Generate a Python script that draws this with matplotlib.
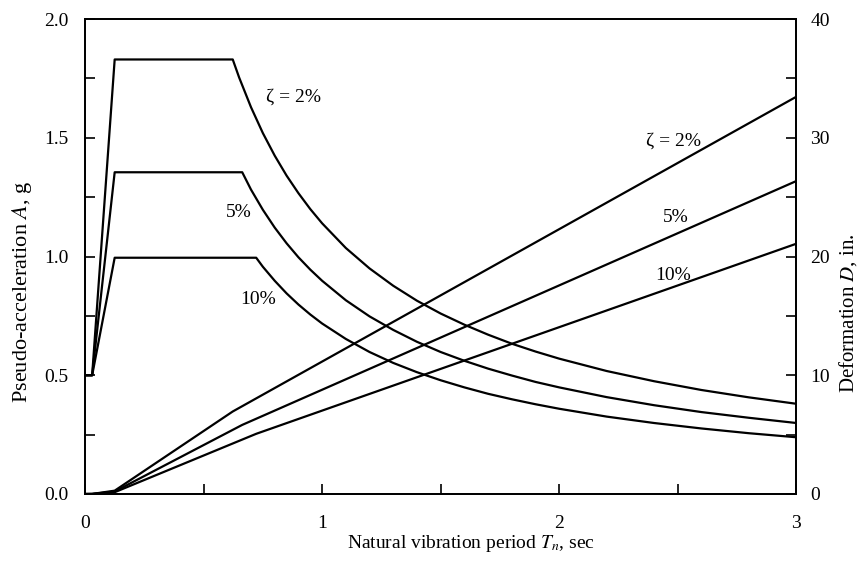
import matplotlib
matplotlib.use("Agg")
import matplotlib.pyplot as plt
from matplotlib.ticker import MultipleLocator

plt.rcParams["font.family"] = ["Liberation Serif", "DejaVu Serif"]
plt.rcParams["mathtext.fontset"] = "stix"

# pseudo-acceleration A (g) vs period Tn (s)
T_A2 = [0.0, 0.030, 0.125, 0.623, 0.65, 0.70, 0.75, 0.80, 0.85, 0.90, 0.95, 1.0, 1.1, 1.2, 1.3, 1.4,
        1.5, 1.6, 1.7, 1.8, 1.9, 2.0, 2.2, 2.4, 2.6, 2.8, 3.0]
A2 = [0.50, 0.50, 1.83, 1.83, 1.754, 1.629, 1.520, 1.425, 1.341, 1.267, 1.200, 1.140, 1.036, 0.950,
      0.877, 0.814, 0.760, 0.713, 0.671, 0.633, 0.600, 0.570, 0.518, 0.475, 0.438, 0.407, 0.380]

T_A5 = [0.0, 0.030, 0.125, 0.663, 0.70, 0.75, 0.80, 0.85, 0.90, 0.95, 1.0, 1.1, 1.2, 1.3, 1.4,
        1.5, 1.6, 1.7, 1.8, 1.9, 2.0, 2.2, 2.4, 2.6, 2.8, 3.0]
A5 = [0.50, 0.50, 1.355, 1.355, 1.282, 1.197, 1.122, 1.056, 0.997, 0.945, 0.898, 0.816, 0.748,
      0.691, 0.641, 0.598, 0.561, 0.528, 0.499, 0.472, 0.449, 0.408, 0.374, 0.345, 0.321, 0.299]

T_A10 = [0.0, 0.030, 0.125, 0.722, 0.75, 0.80, 0.85, 0.90, 0.95, 1.0, 1.1, 1.2, 1.3, 1.4,
         1.5, 1.6, 1.7, 1.8, 1.9, 2.0, 2.2, 2.4, 2.6, 2.8, 3.0]
A10 = [0.50, 0.50, 0.995, 0.995, 0.957, 0.898, 0.845, 0.798, 0.756, 0.718, 0.653, 0.598, 0.552,
       0.513, 0.479, 0.449, 0.422, 0.399, 0.378, 0.359, 0.326, 0.299, 0.276, 0.256, 0.239]

# deformation D (in.) vs period Tn (s)
T_D2 = [0.0, 0.030, 0.125, 0.623, 3.0]
D2 = [0.0, 0.005, 0.28, 6.95, 33.46]

T_D5 = [0.0, 0.030, 0.125, 0.663, 3.0]
D5 = [0.0, 0.005, 0.21, 5.82, 26.36]

T_D10 = [0.0, 0.030, 0.125, 0.722, 3.0]
D10 = [0.0, 0.005, 0.15, 5.07, 21.08]

fig = plt.figure(figsize=(8.59, 5.62), dpi=100)
ax = fig.add_axes([0.099, 0.121, 0.828, 0.845])
ax2 = ax.twinx()

lw = 1.6
for T, A in [(T_A2, A2), (T_A5, A5), (T_A10, A10)]:
    ax.plot(T, A, color="black", lw=lw)
for T, D in [(T_D2, D2), (T_D5, D5), (T_D10, D10)]:
    ax2.plot(T, D, color="black", lw=lw)

ax.set_xlim(0, 3)
ax.set_ylim(0, 2.0)
ax2.set_ylim(0, 40)

ax.xaxis.set_major_locator(MultipleLocator(1))
ax.xaxis.set_minor_locator(MultipleLocator(0.5))
ax.yaxis.set_major_locator(MultipleLocator(0.5))
ax.yaxis.set_minor_locator(MultipleLocator(0.25))
ax2.yaxis.set_major_locator(MultipleLocator(10))
ax2.yaxis.set_minor_locator(MultipleLocator(5))
ax.yaxis.set_major_formatter(plt.FormatStrFormatter("%.1f"))

ax.tick_params(axis="both", which="both", direction="in", length=7, width=1.2, labelsize=14)
ax.tick_params(axis="x", pad=15)
ax.tick_params(axis="y", pad=12)
ax2.tick_params(axis="y", which="both", direction="in", length=7, width=1.2, labelsize=14, pad=10)
for a in (ax, ax2):
    for s in a.spines.values():
        s.set_linewidth(1.3)

ax.set_xlabel("Natural vibration period $T_n$, sec", fontsize=14)
ax.xaxis.set_label_coords(0.543, -0.083)
ax.set_ylabel("Pseudo-acceleration $A$, g", fontsize=16)
ax.yaxis.set_label_coords(-0.072, 0.425)
ax2.set_ylabel("Deformation $D$, in.", fontsize=15)
ax2.yaxis.set_label_coords(1.057, 0.381)

# curve labels
ax.text(0.88, 1.67, "ζ = 2%", fontsize=14, ha="center", va="center")
ax.text(0.65, 1.185, "5%", fontsize=14, ha="center", va="center")
ax.text(0.73, 0.82, "10%", fontsize=14, ha="center", va="center")
ax2.text(2.48, 29.7, "ζ = 2%", fontsize=14, ha="center", va="center")
ax2.text(2.49, 23.3, "5%", fontsize=14, ha="center", va="center")
ax2.text(2.48, 18.4, "10%", fontsize=14, ha="center", va="center")

fig.savefig("out.png", dpi=100)
